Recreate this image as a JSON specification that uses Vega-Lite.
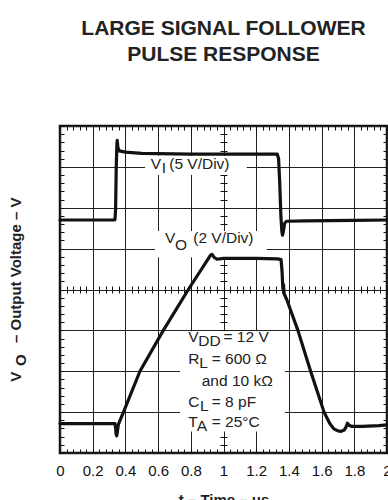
{
  "$schema": "https://vega.github.io/schema/vega-lite/v6.json",
  "width": 327,
  "height": 327,
  "autosize": {"type": "none"},
  "padding": {"left": 60, "top": 126, "right": 1, "bottom": 47},
  "background": "white",
  "title": {
    "text": ["LARGE SIGNAL FOLLOWER", "PULSE RESPONSE"],
    "fontSize": 21, "fontWeight": "bold", "font": "Liberation Sans", "color": "#222",
    "anchor": "middle", "frame": "group", "lineHeight": 26, "offset": 61
  },
  "config": {
    "view": {"stroke": "#111", "strokeWidth": 2.5},
    "font": "Liberation Sans",
    "axis": {"gridColor": "#222", "gridOpacity": 1, "gridWidth": 1, "tickColor": "#111", "tickWidth": 1, "domain": false, "labelColor": "#111", "titleColor": "#222"}
  },
  "datasets": {
    "traces": [
      {"series": "VI", "t": 0, "v": 5.70}, {"series": "VI", "t": 0.336, "v": 5.70}, {"series": "VI", "t": 0.340, "v": 5.95},
      {"series": "VI", "t": 0.344, "v": 7.0}, {"series": "VI", "t": 0.348, "v": 7.55}, {"series": "VI", "t": 0.350, "v": 7.65},
      {"series": "VI", "t": 0.354, "v": 7.48}, {"series": "VI", "t": 0.362, "v": 7.39}, {"series": "VI", "t": 0.40, "v": 7.36},
      {"series": "VI", "t": 0.50, "v": 7.33}, {"series": "VI", "t": 0.80, "v": 7.31}, {"series": "VI", "t": 1.10, "v": 7.31},
      {"series": "VI", "t": 1.329, "v": 7.31}, {"series": "VI", "t": 1.337, "v": 7.2}, {"series": "VI", "t": 1.344, "v": 6.6},
      {"series": "VI", "t": 1.351, "v": 5.8}, {"series": "VI", "t": 1.357, "v": 5.42}, {"series": "VI", "t": 1.361, "v": 5.33},
      {"series": "VI", "t": 1.366, "v": 5.42}, {"series": "VI", "t": 1.374, "v": 5.62}, {"series": "VI", "t": 1.385, "v": 5.67},
      {"series": "VI", "t": 1.50, "v": 5.68}, {"series": "VI", "t": 1.80, "v": 5.69}, {"series": "VI", "t": 2.0, "v": 5.70},
      {"series": "VO", "t": 0, "v": 0.72}, {"series": "VO", "t": 0.336, "v": 0.72}, {"series": "VO", "t": 0.340, "v": 0.62},
      {"series": "VO", "t": 0.343, "v": 0.46}, {"series": "VO", "t": 0.347, "v": 0.42}, {"series": "VO", "t": 0.351, "v": 0.52},
      {"series": "VO", "t": 0.357, "v": 0.70}, {"series": "VO", "t": 0.387, "v": 0.99}, {"series": "VO", "t": 0.489, "v": 2.0},
      {"series": "VO", "t": 0.632, "v": 3.0}, {"series": "VO", "t": 0.785, "v": 4.0}, {"series": "VO", "t": 0.921, "v": 4.84},
      {"series": "VO", "t": 0.930, "v": 4.86}, {"series": "VO", "t": 0.942, "v": 4.79}, {"series": "VO", "t": 0.960, "v": 4.74},
      {"series": "VO", "t": 1.0, "v": 4.76}, {"series": "VO", "t": 1.2, "v": 4.76}, {"series": "VO", "t": 1.33, "v": 4.75},
      {"series": "VO", "t": 1.352, "v": 4.73}, {"series": "VO", "t": 1.358, "v": 4.45}, {"series": "VO", "t": 1.363, "v": 4.02},
      {"series": "VO", "t": 1.367, "v": 4.12}, {"series": "VO", "t": 1.371, "v": 3.90}, {"series": "VO", "t": 1.390, "v": 3.72},
      {"series": "VO", "t": 1.455, "v": 3.0}, {"series": "VO", "t": 1.533, "v": 2.0}, {"series": "VO", "t": 1.615, "v": 1.0},
      {"series": "VO", "t": 1.650, "v": 0.72}, {"series": "VO", "t": 1.675, "v": 0.59}, {"series": "VO", "t": 1.700, "v": 0.54},
      {"series": "VO", "t": 1.720, "v": 0.53}, {"series": "VO", "t": 1.738, "v": 0.56}, {"series": "VO", "t": 1.750, "v": 0.64},
      {"series": "VO", "t": 1.758, "v": 0.73}, {"series": "VO", "t": 1.768, "v": 0.68}, {"series": "VO", "t": 1.785, "v": 0.65},
      {"series": "VO", "t": 1.85, "v": 0.65}, {"series": "VO", "t": 1.95, "v": 0.67}, {"series": "VO", "t": 2.0, "v": 0.69}
    ],
    "boxes": [
      {"t1": 0.520, "t2": 1.142, "v1": 6.80, "v2": 7.27},
      {"t1": 0.581, "t2": 1.264, "v1": 4.79, "v2": 5.43},
      {"t1": 0.734, "t2": 1.376, "v1": 0.526, "v2": 2.98}
    ],
    "labels": [
      {"t": 0.555, "v": 6.94, "text": "V"}, {"t": 0.622, "v": 6.84, "text": "I"}, {"t": 0.668, "v": 6.94, "text": "(5 V/Div)"},
      {"t": 0.642, "v": 5.127, "text": "V"}, {"t": 0.703, "v": 4.963, "text": "O"}, {"t": 0.815, "v": 5.127, "text": "(2 V/Div)"},
      {"t": 0.785, "v": 2.72, "text": "V"}, {"t": 0.846, "v": 2.616, "text": "DD"}, {"t": 1.0, "v": 2.72, "text": "= 12 V"},
      {"t": 0.785, "v": 2.169, "text": "R"}, {"t": 0.852, "v": 2.071, "text": "L"}, {"t": 0.928, "v": 2.169, "text": "= 600 Ω"},
      {"t": 0.867, "v": 1.645, "text": "and 10 kΩ"},
      {"t": 0.785, "v": 1.117, "text": "C"}, {"t": 0.856, "v": 1.034, "text": "L"}, {"t": 0.928, "v": 1.117, "text": "= 8 pF"},
      {"t": 0.785, "v": 0.628, "text": "T"}, {"t": 0.836, "v": 0.538, "text": "A"}, {"t": 0.928, "v": 0.628, "text": "= 25°C"}
    ],
    "ytitle": [
      {"t": -0.240, "v": 1.743, "text": "V"},
      {"t": -0.211, "v": 2.127, "text": "O"},
      {"t": -0.240, "v": 2.69, "text": "– Output Voltage – V"}
    ]
  },
  "resolve": {"axis": {"x": "independent", "y": "independent"}},
  "layer": [
    {
      "data": {"name": "boxes"},
      "mark": {"type": "rect", "fill": "white", "stroke": null},
      "encoding": {
        "x": {"field": "t1", "type": "quantitative", "scale": {"domain": [0, 2], "nice": false, "zero": false},
          "axis": {"orient": "bottom", "values": [0, 0.2, 0.4, 0.6, 0.8, 1, 1.2, 1.4, 1.6, 1.8, 2], "format": "~g",
            "grid": true, "ticks": false, "domain": false, "labelFontSize": 15, "labelPadding": 10, "labelFlush": false,
            "labelOverlap": false, "labelBound": false, "title": "t – Time – μs", "titleFontSize": 15, "titleFontWeight": "bold", "titlePadding": 14}},
        "x2": {"field": "t2"},
        "y": {"field": "v1", "type": "quantitative", "scale": {"domain": [0, 8], "nice": false, "zero": false},
          "axis": {"orient": "left", "values": [0, 1, 2, 3, 4, 5, 6, 7, 8], "grid": true, "ticks": false, "labels": false, "domain": false, "title": null}},
        "y2": {"field": "v2"}
      }
    },
    {
      "data": {"name": "traces"},
      "mark": {"type": "line", "color": "#111", "strokeWidth": 3.2, "strokeJoin": "round", "strokeCap": "round"},
      "encoding": {
        "x": {"field": "t", "type": "quantitative", "scale": {"domain": [0, 2], "nice": false, "zero": false},
          "axis": {"orient": "bottom", "values": [0,0.04,0.08,0.12,0.16,0.2,0.24,0.28,0.32,0.36,0.4,0.44,0.48,0.52,0.56,0.6,0.64,0.68,0.72,0.76,0.8,0.84,0.88,0.92,0.96,1,1.04,1.08,1.12,1.16,1.2,1.24,1.28,1.32,1.36,1.4,1.44,1.48,1.52,1.56,1.6,1.64,1.68,1.72,1.76,1.8,1.84,1.88,1.92,1.96,2],
            "grid": false, "labels": false, "domain": false, "tickSize": -4, "title": null}},
        "y": {"field": "v", "type": "quantitative", "scale": {"domain": [0, 8], "nice": false, "zero": false},
          "axis": {"orient": "left", "values": [0,0.2,0.4,0.6,0.8,1,1.2,1.4,1.6,1.8,2,2.2,2.4,2.6,2.8,3,3.2,3.4,3.6,3.8,4,4.2,4.4,4.6,4.8,5,5.2,5.4,5.6,5.8,6,6.2,6.4,6.6,6.8,7,7.2,7.4,7.6,7.8,8],
            "grid": false, "labels": false, "domain": false, "tickSize": -4, "title": null}},
        "detail": {"field": "series"}
      }
    },
    {
      "data": {"name": "labels"},
      "mark": {"type": "text", "align": "left", "baseline": "alphabetic", "fontSize": 15.5, "font": "Liberation Sans", "color": "#222"},
      "encoding": {
        "x": {"field": "t", "type": "quantitative", "scale": {"domain": [0, 2], "nice": false, "zero": false},
          "axis": {"orient": "top", "values": [0,0.04,0.08,0.12,0.16,0.2,0.24,0.28,0.32,0.36,0.4,0.44,0.48,0.52,0.56,0.6,0.64,0.68,0.72,0.76,0.8,0.84,0.88,0.92,0.96,1,1.04,1.08,1.12,1.16,1.2,1.24,1.28,1.32,1.36,1.4,1.44,1.48,1.52,1.56,1.6,1.64,1.68,1.72,1.76,1.8,1.84,1.88,1.92,1.96,2],
            "grid": false, "labels": false, "domain": false, "tickSize": -4, "title": null}},
        "y": {"field": "v", "type": "quantitative", "scale": {"domain": [0, 8], "nice": false, "zero": false},
          "axis": {"orient": "right", "values": [0,0.2,0.4,0.6,0.8,1,1.2,1.4,1.6,1.8,2,2.2,2.4,2.6,2.8,3,3.2,3.4,3.6,3.8,4,4.2,4.4,4.6,4.8,5,5.2,5.4,5.6,5.8,6,6.2,6.4,6.6,6.8,7,7.2,7.4,7.6,7.8,8],
            "grid": false, "labels": false, "domain": false, "tickSize": -4, "title": null}},
        "text": {"field": "text"}
      }
    },
    {
      "data": {"name": "ytitle"},
      "mark": {"type": "text", "align": "left", "baseline": "alphabetic", "angle": 270, "fontSize": 15, "fontWeight": "bold", "font": "Liberation Sans", "color": "#222"},
      "encoding": {
        "x": {"field": "t", "type": "quantitative", "scale": {"domain": [0, 2], "nice": false, "zero": false},
          "axis": {"orient": "bottom", "offset": -167, "values": [0,0.04,0.08,0.12,0.16,0.2,0.24,0.28,0.32,0.36,0.4,0.44,0.48,0.52,0.56,0.6,0.64,0.68,0.72,0.76,0.8,0.84,0.88,0.92,0.96,1,1.04,1.08,1.12,1.16,1.2,1.24,1.28,1.32,1.36,1.4,1.44,1.48,1.52,1.56,1.6,1.64,1.68,1.72,1.76,1.8,1.84,1.88,1.92,1.96,2],
            "grid": false, "labels": false, "domain": false, "tickSize": 7, "title": null}},
        "y": {"field": "v", "type": "quantitative", "scale": {"domain": [0, 8], "nice": false, "zero": false},
          "axis": {"orient": "left", "offset": -167, "values": [0,0.2,0.4,0.6,0.8,1,1.2,1.4,1.6,1.8,2,2.2,2.4,2.6,2.8,3,3.2,3.4,3.6,3.8,4,4.2,4.4,4.6,4.8,5,5.2,5.4,5.6,5.8,6,6.2,6.4,6.6,6.8,7,7.2,7.4,7.6,7.8,8],
            "grid": false, "labels": false, "domain": false, "tickSize": 7, "title": null}},
        "text": {"field": "text"}
      }
    }
  ]
}
